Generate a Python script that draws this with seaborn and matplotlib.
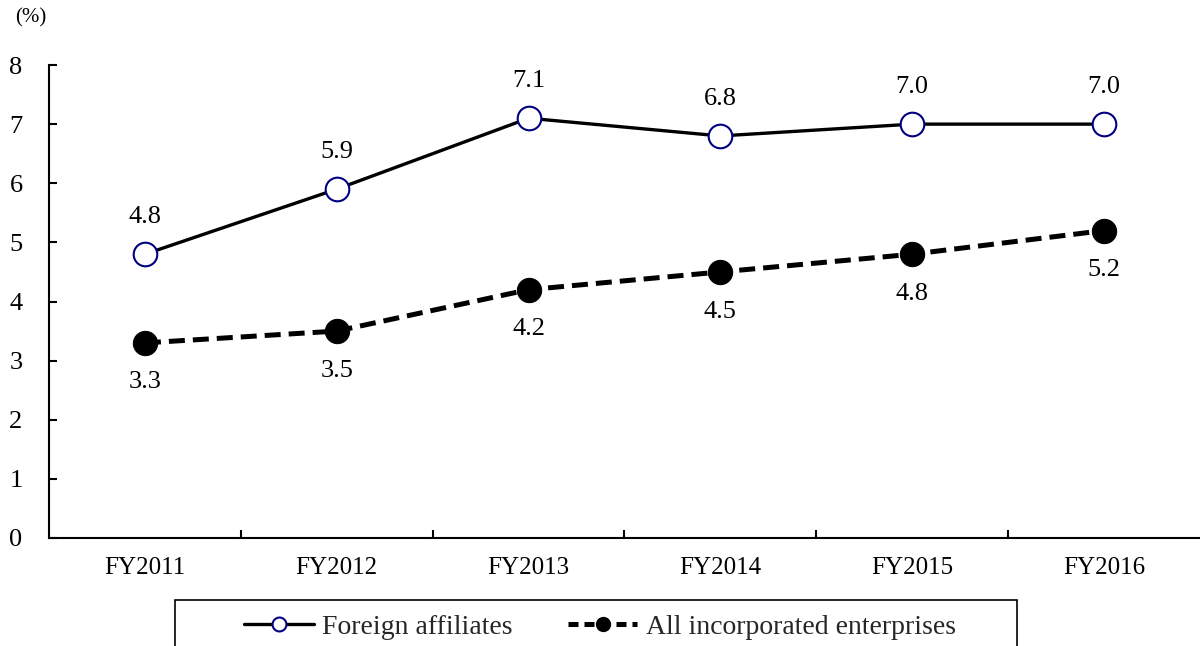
import matplotlib
matplotlib.use("Agg")
import matplotlib.pyplot as plt
import seaborn as sns
import pandas as pd
from matplotlib.lines import Line2D
from matplotlib.patches import Rectangle
from matplotlib.ticker import FixedLocator

years = ["FY2011", "FY2012", "FY2013", "FY2014", "FY2015", "FY2016"]
foreign = [4.8, 5.9, 7.1, 6.8, 7.0, 7.0]
all_ent = [3.3, 3.5, 4.2, 4.5, 4.8, 5.2]
series_names = ["Foreign affiliates", "All incorporated enterprises"]
yticks = [0, 1, 2, 3, 4, 5, 6, 7, 8]

sns.set_theme(style="white")
plt.rcParams["font.family"] = ["Liberation Serif", "DejaVu Serif"]
FS = 18

fig = plt.figure(figsize=(12, 6.46), dpi=100)
ax = fig.add_axes([49/1200, 1-538/646, 1-49/1200, (538-65)/646])

df = pd.DataFrame({"year": years, "foreign": foreign, "all": all_ent})

sns.lineplot(data=df, x="year", y="foreign", ax=ax, color="black", lw=2.4,
             marker="o", markersize=17, markerfacecolor="white",
             markeredgecolor="#000080", markeredgewidth=1.5, zorder=3)
sns.lineplot(data=df, x="year", y="all", ax=ax, color="black", lw=3.6,
             marker="o", markersize=17.5, markerfacecolor="black",
             markeredgecolor="black", zorder=3)
ax.lines[1].set_dashes((3.2, 1.6))

ax.set_xlim(-0.5, 5.5)
ax.set_ylim(0, 8)
ax.set_yticks(yticks)
ax.set_xlabel("")
ax.set_ylabel("")

for s in ["top", "right"]:
    ax.spines[s].set_visible(False)
for s in ["left", "bottom"]:
    ax.spines[s].set_color("black")
    ax.spines[s].set_linewidth(1.5)

ax.tick_params(axis="y", direction="in", length=6, width=1.5, color="black",
               labelsize=FS + 1, pad=19, left=True)
ax.tick_params(axis="x", which="major", length=0, labelsize=FS, pad=14)
ax.xaxis.set_minor_locator(FixedLocator([0.5, 1.5, 2.5, 3.5, 4.5]))
ax.tick_params(axis="x", which="minor", direction="in", length=6, width=1.5,
               color="black", bottom=True)
for lbl in ax.get_yticklabels() + ax.get_xticklabels():
    lbl.set_color("black")

for i, v in enumerate(foreign):
    ax.annotate(f"{v:.1f}", (i, v), xytext=(0, 26.5), textcoords="offset points",
                ha="center", va="center", fontsize=FS + 1, color="black",
                annotation_clip=False)
for i, v in enumerate(all_ent):
    ax.annotate(f"{v:.1f}", (i, v), xytext=(0, -28.5), textcoords="offset points",
                ha="center", va="center", fontsize=FS + 1, color="black")

fig.text(15/1200, 1-18/646, "(%)", fontsize=15, ha="left", va="center", color="black")

handles = [
    Line2D([], [], color="black", lw=2.4, marker="o", markersize=10,
           markerfacecolor="white", markeredgecolor="#000080", markeredgewidth=1.5),
    Line2D([], [], color="black", lw=3.6, marker="o", markersize=10,
           markerfacecolor="black", markeredgecolor="black", dashes=(2, 1.2)),
]
fig.legend(handles, series_names, loc="center", bbox_to_anchor=(0.5, 1-627/646),
           ncol=2, frameon=False, fontsize=20, handlelength=2.5,
           handletextpad=0.3, columnspacing=2.0)
fig.patches.append(Rectangle((175/1200, -0.0124), (1017-175)/1200, 0.0836,
                             transform=fig.transFigure, fill=False,
                             edgecolor="black", lw=1.2))

fig.savefig("out.png", dpi=100)
